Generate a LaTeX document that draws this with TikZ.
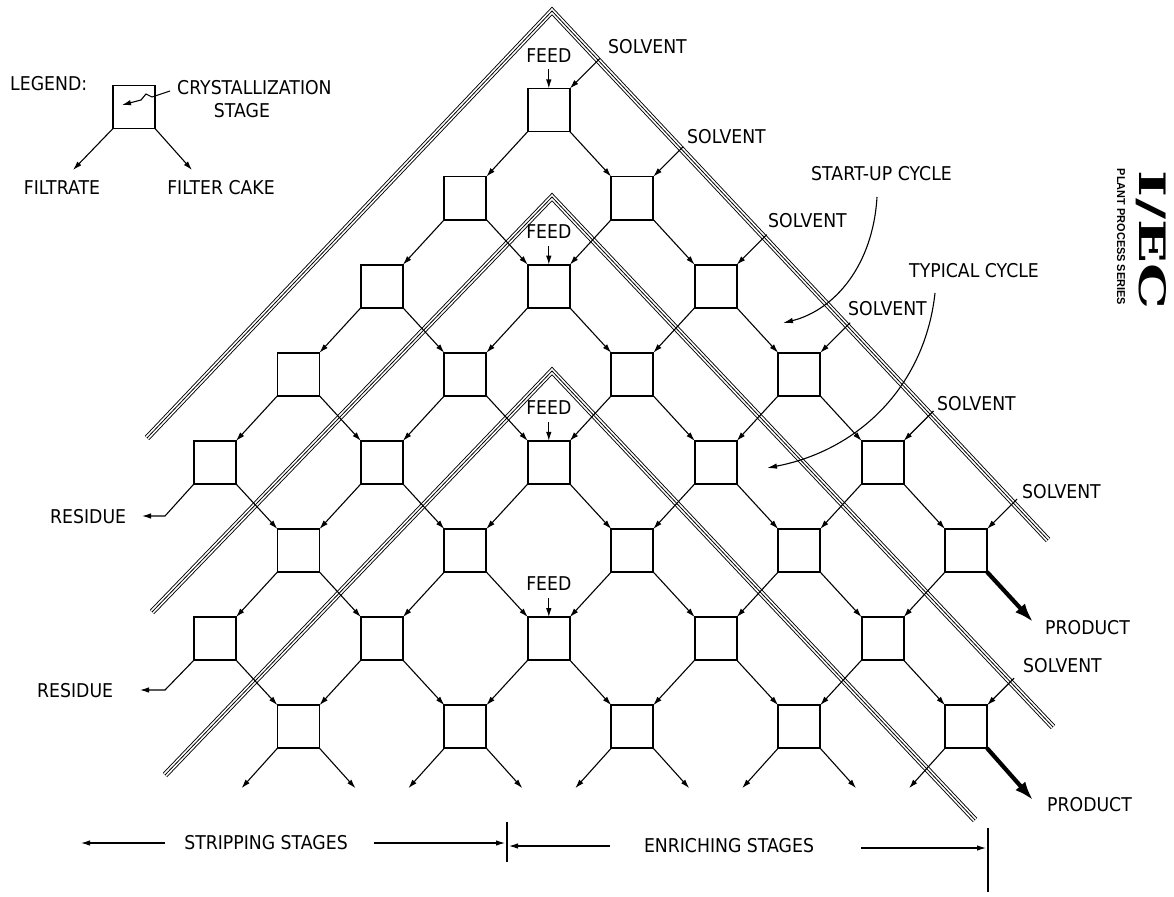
\documentclass[tikz,border=0pt]{standalone}
\usepackage{graphicx}
\usepackage{fontspec}
\usetikzlibrary{arrows.meta,calc}
\newfontfamily\labfont{DejaVu Sans}[FakeStretch=0.91]
\newfontfamily\logofont{DejaVu Serif}
\newfontfamily\subfont{Liberation Sans}
\begin{document}
\begin{tikzpicture}[x=1pt,y=-1pt,
  stage/.style={draw, line width=1.8pt, minimum width=42pt, minimum height=43pt, inner sep=0pt, outer sep=0pt},
  flow/.style={line width=1.1pt, -{Latex[length=9pt,width=5.5pt]}},
  prod/.style={line width=4.2pt, -{Latex[length=19pt,width=13pt]}},
  arcarrow/.style={line width=1.1pt, -{Latex[length=10pt,width=5.5pt]}},
  axisarrow/.style={line width=1.1pt, -{Latex[length=9pt,width=5.5pt]}},
  tickline/.style={line width=1.2pt},
  triple/.style={line join=miter, miter limit=20, line cap=butt,
     preaction={draw=black, line width=6pt}, draw=white, line width=4.2pt,
     postaction={draw=black, line width=0.8pt}},
  lab/.style={font={\labfont\fontsize{19}{20}\selectfont}, inner sep=0pt}]
\fill[white] (0,0) rectangle (1174,896);
\useasboundingbox (0,0) rectangle (1174,896);

% cycle boundaries
\coordinate (A1) at (147,438); \coordinate (A2) at (552,11); \coordinate (A3) at (1048,540);
\coordinate (B1) at (152,612); \coordinate (B2) at (552,197); \coordinate (B3) at (1053,727);
\coordinate (C1) at (165,775); \coordinate (C2) at (552,371); \coordinate (C3) at (975,820);
\draw[triple] (A1) -- (A2) -- (A3);
\draw[triple] (B1) -- (B2) -- (B3);
\draw[triple] (C1) -- (C2) -- (C3);

% stages
\foreach \j/\k in {0/4,1/3,1/5,2/2,2/4,2/6,3/1,3/3,3/5,3/7,4/0,4/2,4/4,4/6,4/8,5/1,5/3,5/5,5/7,5/9,6/0,6/2,6/4,6/6,6/8,7/1,7/3,7/5,7/7,7/9}
  \node[stage] (b\j\k) at ({215+83.45*\k},{110+88.1*\j}) {};

% filtrate connections (down-left)
\foreach \j/\k [evaluate=\j as \jn using {int(\j+1)}, evaluate=\k as \kl using {int(\k-1)}] in
  {0/4,1/3,1/5,2/2,2/4,2/6,3/1,3/3,3/5,3/7,4/2,4/4,4/6,4/8,5/1,5/3,5/5,5/7,5/9,6/2,6/4,6/6,6/8}
  \draw[flow] (b\j\k.south west) -- (b\jn\kl.north east);
% filter cake connections (down-right)
\foreach \j/\k [evaluate=\j as \jn using {int(\j+1)}, evaluate=\k as \kr using {int(\k+1)}] in
  {0/4,1/3,1/5,2/2,2/4,2/6,3/1,3/3,3/5,3/7,4/0,4/2,4/4,4/6,4/8,5/1,5/3,5/5,5/7,6/0,6/2,6/4,6/6,6/8}
  \draw[flow] (b\j\k.south east) -- (b\jn\kr.north west);

% bottom row outputs
\foreach \k in {1,3,5,7,9} {
  \coordinate (oL\k) at ($(b7\k.south west)+(-36,40)$);
  \draw[flow] (b7\k.south west) -- (oL\k);
}
\foreach \k in {1,3,5,7} {
  \coordinate (oR\k) at ($(b7\k.south east)+(36,40)$);
  \draw[flow] (b7\k.south east) -- (oR\k);
}

% products
\coordinate (p1) at ($(b59.south east)+(46,50)$);
\coordinate (p2) at ($(b79.south east)+(46,52)$);
\draw[prod] (b59.south east) -- (p1);
\draw[prod] (b79.south east) -- (p2);
\node[lab, anchor=west] (prodlab1) at (1045,628) {PRODUCT};
\node[lab, anchor=west] (prodlab2) at (1047,805) {PRODUCT};

% residues
\coordinate (r1a) at (165,516); \coordinate (r1b) at (142,516);
\coordinate (r2a) at (165,690); \coordinate (r2b) at (140,690);
\draw[flow] (b40.south west) -- (r1a) -- (r1b);
\draw[flow] (b60.south west) -- (r2a) -- (r2b);
\node[lab, anchor=west] (res1) at (50,517) {RESIDUE};
\node[lab, anchor=west] (res2) at (37,691) {RESIDUE};

% solvent
\foreach \j/\k in {0/4,1/5,2/6,3/7,4/8,5/9} {
  \coordinate (s\j) at ($(b\j\k.north east)+(30,-30)$);
  \draw[flow] (s\j) -- (b\j\k.north east);
}
\coordinate (s7) at ($(b79.north east)+(27,-27)$);
\draw[flow] (s7) -- (b79.north east);
\foreach \n/\x/\y in {1/608/47,2/687/137,3/768/221,4/848/309,5/937/404,6/1022/492,7/1023/666}
  \node[lab, anchor=west] (sl\n) at (\x,\y) {SOLVENT};

% feed
\foreach \j in {0,2,4,6} {
  \coordinate (f\j) at ($(b\j4.north)+(0,-19)$);
  \draw[flow] (f\j) -- (b\j4.north);
  \node[lab, anchor=south] (fl\j) at ($(f\j)+(0,-7)$) {FEED};
}

% cycles
\node[lab, anchor=west] (startup) at (811,174) {START-UP CYCLE};
\coordinate (su0) at (877,197); \coordinate (su1) at (783,323);
\draw[arcarrow] (su0) .. controls (873,265) and (835,310) .. (su1);
\node[lab, anchor=west] (typical) at (909,271) {TYPICAL CYCLE};
\coordinate (ty0) at (935,293); \coordinate (ty1) at (767,468);
\draw[arcarrow] (ty0) .. controls (925,385) and (860,450) .. (ty1);

% legend
\node[lab, anchor=west] (legend) at (10,84) {LEGEND:};
\node[stage] (leg) at (134,107) {};
\node[lab, anchor=west] (cryst) at (177,88) {CRYSTALLIZATION};
\node[lab] (stage) at (242,111) {STAGE};
\coordinate (z0) at (170,91); \coordinate (z1) at (152,97); \coordinate (z2) at (146,94);
\coordinate (z3) at (141,100); \coordinate (z4) at (122,105);
\draw[flow] (z0) -- (z1) -- (z2) -- (z3) -- (z4);
\coordinate (lf) at (73,170); \coordinate (lc) at (192,170);
\draw[flow] (leg.south west) -- (lf);
\draw[flow] (leg.south east) -- (lc);
\node[lab] (filtrate) at (62,188) {FILTRATE};
\node[lab] (cake) at (221,188) {FILTER CAKE};

% logo
\node[rotate=-90, inner sep=0pt] (logo) at (1151,240) {\resizebox{138pt}{27pt}{\logofont\bfseries I/EC}};
\node[rotate=-90, inner sep=0pt] (series) at (1121,237) {\resizebox{136pt}{8pt}{\subfont\bfseries PLANT PROCESS SERIES}};

% stage axis
\coordinate (ax0) at (81,843); \coordinate (ax1) at (165,843);
\coordinate (ax2) at (374,843); \coordinate (ax3) at (505,843);
\coordinate (ax4) at (610,846); \coordinate (ax5) at (509,846);
\coordinate (ax6) at (861,848); \coordinate (ax7) at (986,848);
\coordinate (t1a) at (507,822); \coordinate (t1b) at (507,862);
\coordinate (t2a) at (988,828); \coordinate (t2b) at (988,892);
\draw[axisarrow] (ax1) -- (ax0);
\draw[axisarrow] (ax2) -- (ax3);
\draw[axisarrow] (ax4) -- (ax5);
\draw[axisarrow] (ax6) -- (ax7);
\draw[tickline] (t1a) -- (t1b);
\draw[tickline] (t2a) -- (t2b);
\node[lab] (strip) at (266,843) {STRIPPING STAGES};
\node[lab] (enrich) at (729,846) {ENRICHING STAGES};
\end{tikzpicture}
\end{document}
